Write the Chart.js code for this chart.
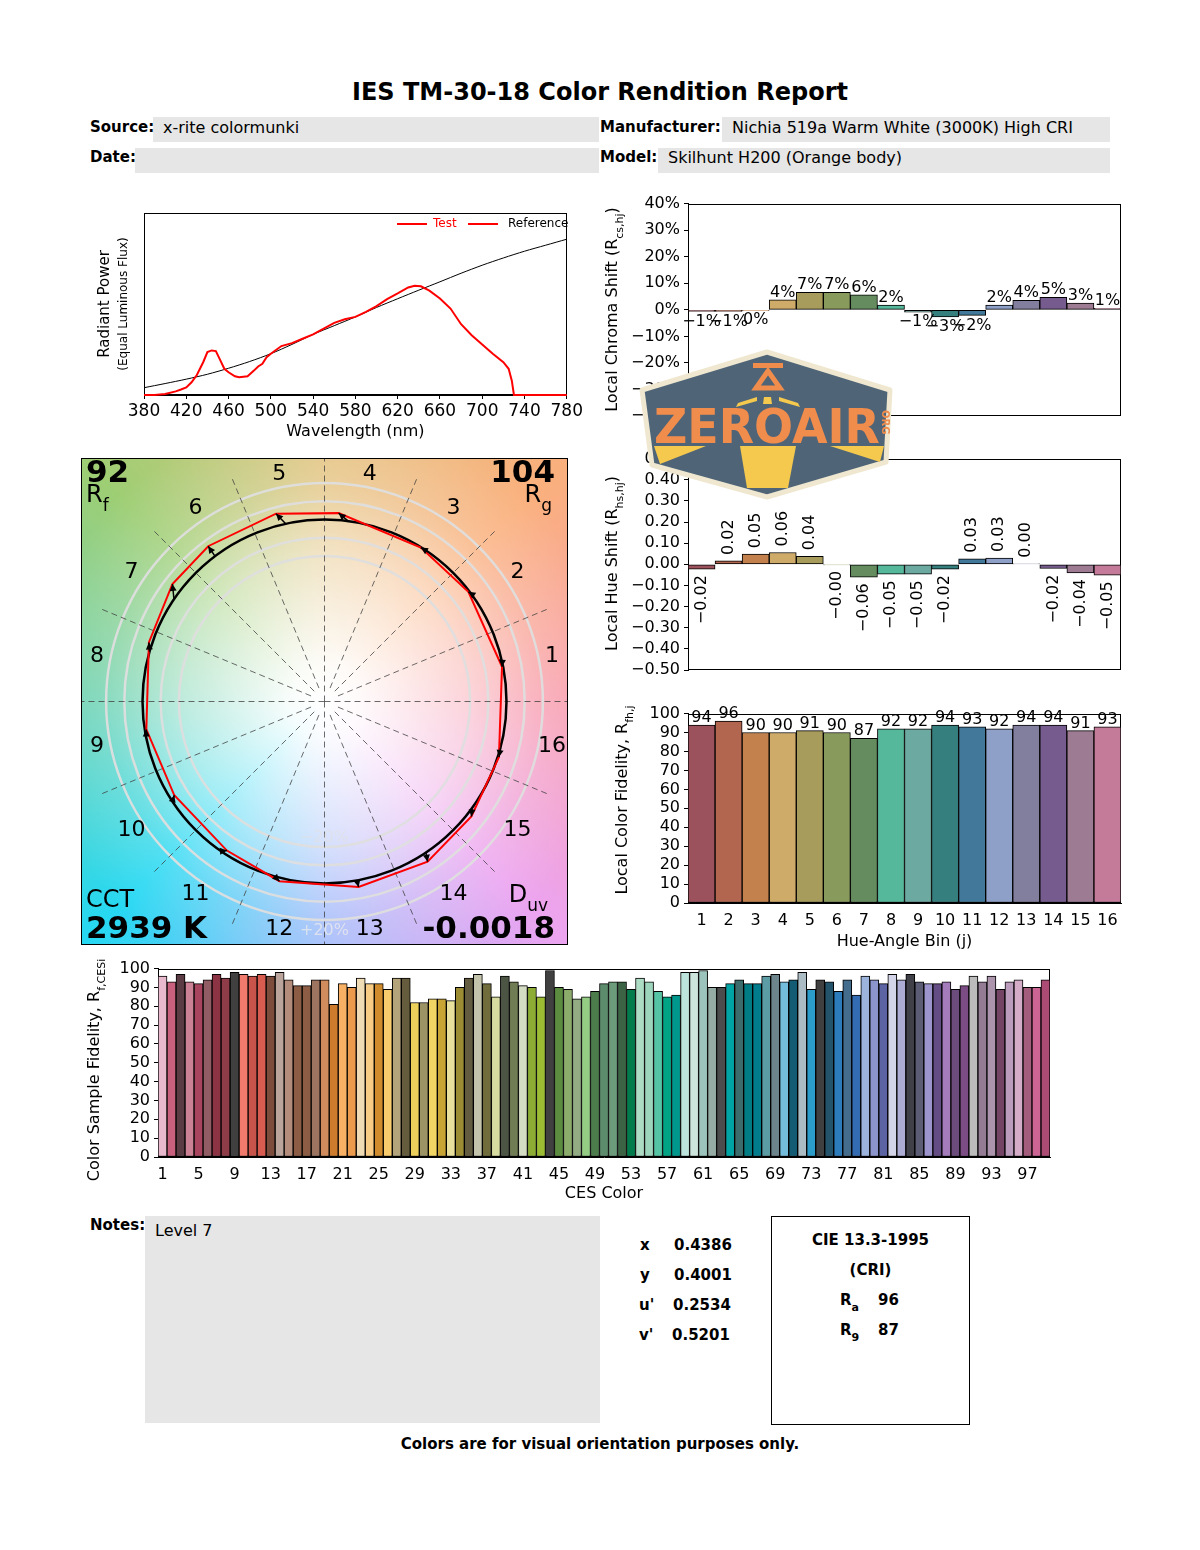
<!DOCTYPE html>
<html>
<head>
<meta charset="utf-8">
<title>IES TM-30-18 Color Rendition Report</title>
<script src="https://cdn.jsdelivr.net/npm/chart.js@4.4.1/dist/chart.umd.min.js"></script>
<style>
  body { margin: 0; background: #fff; font-family: 'DejaVu Sans', sans-serif; color: #000; }
  #page { position: relative; width: 1200px; height: 1550px; overflow: hidden; }
  .t { position: absolute; white-space: nowrap; }
  .b { font-weight: bold; font-size: 15px; }
  .v { font-size: 16px; }
  .gray { position: absolute; background: #e6e6e6; }
  .plot { position: absolute; }
</style>
</head>
<body>
<div id="page">
  <div class="t" style="left:0;width:1200px;top:78px;text-align:center;font-weight:bold;font-size:24px;line-height:28px">IES TM-30-18 Color Rendition Report</div>

  <div class="gray" style="left:153px;top:117px;width:446px;height:25px"></div>
  <div class="t b" style="left:90px;top:115px;line-height:25px">Source:</div>
  <div class="t v" style="left:163px;top:115px;line-height:25px">x-rite colormunki</div>

  <div class="gray" style="left:135px;top:148px;width:464px;height:25px"></div>
  <div class="t b" style="left:90px;top:145px;line-height:25px">Date:</div>

  <div class="gray" style="left:722px;top:117px;width:388px;height:25px"></div>
  <div class="t b" style="left:600px;top:115px;line-height:25px">Manufacturer:</div>
  <div class="t v" style="left:732px;top:115px;line-height:25px">Nichia 519a Warm White (3000K) High CRI</div>

  <div class="gray" style="left:658px;top:148px;width:452px;height:25px"></div>
  <div class="t b" style="left:600px;top:145px;line-height:25px">Model:</div>
  <div class="t v" style="left:668px;top:145px;line-height:25px">Skilhunt H200 (Orange body)</div>

  <div class="plot" style="left:85px;top:200px;width:500px;height:245px"><canvas id="spd"></canvas></div>
  <div class="plot" style="left:600px;top:190px;width:530px;height:240px"><canvas id="chroma"></canvas></div>
  <div class="plot" style="left:600px;top:445px;width:530px;height:240px"><canvas id="hue"></canvas></div>
  <div class="plot" style="left:600px;top:700px;width:530px;height:255px"><canvas id="fidelity"></canvas></div>
  <div class="plot" style="left:81px;top:458px;width:487px;height:487px"><canvas id="vector"></canvas></div>
  <div class="plot" style="left:80px;top:955px;width:980px;height:250px"><canvas id="ces"></canvas></div>

  <div class="gray" style="left:145px;top:1216px;width:455px;height:207px"></div>
  <div class="t b" style="left:90px;top:1213px;line-height:25px">Notes:</div>
  <div class="t v" style="left:155px;top:1218px;line-height:25px">Level 7</div>

  <div class="t b" style="left:640px;top:1233px;line-height:25px">x</div>
  <div class="t b" style="left:674px;top:1233px;line-height:25px">0.4386</div>
  <div class="t b" style="left:640px;top:1263px;line-height:25px">y</div>
  <div class="t b" style="left:674px;top:1263px;line-height:25px">0.4001</div>
  <div class="t b" style="left:639px;top:1293px;line-height:25px">u'</div>
  <div class="t b" style="left:673px;top:1293px;line-height:25px">0.2534</div>
  <div class="t b" style="left:639px;top:1323px;line-height:25px">v'</div>
  <div class="t b" style="left:672px;top:1323px;line-height:25px">0.5201</div>

  <div style="position:absolute;left:771px;top:1216px;width:197px;height:207px;border:1px solid #000"></div>
  <div class="t b" style="left:771px;width:199px;text-align:center;top:1228px;line-height:25px">CIE 13.3-1995</div>
  <div class="t b" style="left:771px;width:199px;text-align:center;top:1258px;line-height:25px">(CRI)</div>
  <div class="t b" style="left:840px;top:1288px;line-height:25px">R<sub style="font-size:11px;vertical-align:-6px">a</sub></div>
  <div class="t b" style="left:878px;top:1288px;line-height:25px">96</div>
  <div class="t b" style="left:840px;top:1318px;line-height:25px">R<sub style="font-size:11px;vertical-align:-6px">9</sub></div>
  <div class="t b" style="left:878px;top:1318px;line-height:25px">87</div>

  <div class="t b" style="left:0;width:1200px;text-align:center;top:1432px;line-height:25px">Colors are for visual orientation purposes only.</div>

  <svg class="t" style="left:636px;top:346px" width="270" height="158" viewBox="0 0 270 158">
    <polygon points="131,6 254,44 250,116 131,151 16,119 6,44" fill="#4f6577" stroke="#efe7cf" stroke-width="5" stroke-linejoin="round"/>
    <rect x="117" y="17" width="30" height="5" fill="#f08c4c"/>
    <polygon points="132,25 120,42 144,42" fill="none" stroke="#f08c4c" stroke-width="5"/>
    <g fill="#f5c84e">
      <polygon points="102,57 121,51 121,55 100,61"/>
      <polygon points="128,51 135,51 136,58 127,58"/>
      <polygon points="143,51 162,57 164,61 143,55"/>
      <polygon points="104,100 160,100 152,142 111,142"/>
      <polygon points="18,100 70,100 24,118"/>
      <polygon points="194,100 248,100 244,116"/>
    </g>
    <text x="131" y="97" text-anchor="middle" font-family="DejaVu Sans" font-weight="bold" font-size="48" fill="#f08c4c" textLength="226" lengthAdjust="spacingAndGlyphs">ZEROAIR</text>
    <text x="0" y="0" transform="translate(246,64) rotate(90)" font-family="DejaVu Sans" font-weight="bold" font-size="10" fill="#f08c4c">ORG</text>
  </svg>
</div>

<script>
// ---- data ----
const binLabels = ['1','2','3','4','5','6','7','8','9','10','11','12','13','14','15','16'];
const chromaShift = [-0.6, -0.6, -0.2, 3.8, 6.6, 6.6, 5.6, 1.8, -0.9, -2.7, -2.1, 1.8, 3.6, 4.7, 2.5, 0.6]; // %
const hueShift = [-0.023, 0.016, 0.048, 0.056, 0.038, -0.003, -0.061, -0.047, -0.047, -0.023, 0.026, 0.030, 0.002, -0.020, -0.041, -0.052]; // rad
const localFidelity = [94, 96, 90, 90, 91, 90, 87, 92, 92, 94, 93, 92, 94, 94, 91, 93];
const refHueDeg = [12.4, 36.4, 55.2, 82.5, 102.3, 127.0, 145.8, 164.1, 191.6, 213.3, 235.3, 254.2, 280.3, 303.9, 324.3, 345.3];

const cesFidelity = [
  96, 93, 97, 93, 92, 94, 97, 95, 98, 97,
  96, 97, 96, 98, 94, 91, 91, 94, 94, 81,
  92, 90, 95, 92, 92, 89, 95, 95, 82, 82,
  84, 84, 83, 90, 95, 97, 92, 85, 96, 93,
  91, 90, 85, 99, 90, 89, 84, 85, 88, 92,
  93, 93, 89, 95, 93, 88, 85, 86, 98, 98,
  99, 90, 90, 92, 94, 92, 92, 96, 97, 93,
  94, 98, 89, 94, 93, 88, 94, 86, 96, 94,
  92, 97, 94, 97, 93, 92, 92, 93, 89, 91,
  96, 93, 96, 89, 93, 94, 90, 90, 94
];
const cesLabels = cesFidelity.map((v, i) => String(i + 1));

const wavelengths = [380, 390, 400, 410, 415, 420, 425, 430, 436, 440, 444, 448, 452, 456, 460, 466, 470, 478, 484, 488, 492, 496, 500, 510, 520, 530, 540, 550, 560, 570, 580, 590, 600, 610, 620, 630, 636, 642, 650, 660, 670, 680, 690, 700, 710, 720, 725, 728, 730, 740, 760, 780];
const testSpd = [0, 0, 0.005, 0.02, 0.03, 0.042, 0.07, 0.11, 0.18, 0.236, 0.245, 0.241, 0.193, 0.144, 0.125, 0.103, 0.098, 0.103, 0.134, 0.157, 0.171, 0.208, 0.227, 0.269, 0.285, 0.309, 0.333, 0.365, 0.396, 0.416, 0.429, 0.457, 0.488, 0.527, 0.558, 0.591, 0.600, 0.597, 0.573, 0.530, 0.475, 0.389, 0.328, 0.278, 0.227, 0.180, 0.144, 0.079, 0, 0, 0, 0];
const refWavelengths = [380, 400, 420, 440, 460, 480, 500, 520, 540, 560, 580, 600, 620, 640, 660, 680, 700, 720, 740, 760, 780];
const refSpd = [0.040, 0.063, 0.087, 0.114, 0.147, 0.184, 0.227, 0.278, 0.333, 0.381, 0.429, 0.481, 0.529, 0.576, 0.622, 0.669, 0.713, 0.753, 0.790, 0.823, 0.856];

// ---- colours ----
const binColors = ['#9b525c', '#b2654f', '#c3814d', '#cfab69', '#a89c5c', '#889a5c', '#648c5e', '#55b89a',
                   '#6ca9a0', '#35807f', '#42789a', '#8fa0c8', '#827e9e', '#765b8e', '#9c7b93', '#c47b99'];
const cesColors = [
  '#e8b8cc','#c8607e','#5c3c44','#cc8294','#a8445e','#925c64','#8c3444','#8e3c48','#404040','#f07a6c',
  '#c8544c','#d85c50','#7c4c3c','#baa49c','#b48c7c','#8c5c44','#8c5c44','#9c7460','#d08c5c','#cc7c2c',
  '#f8b064','#ec9a4c','#f0dcb4','#f8cc84','#d08c2c','#f8cc6c','#b4a47c','#645c3c','#ecd05c','#9c9464',
  '#f0d464','#c8a434','#e8e09c','#9c8c34','#645c40','#c4c4ac','#706c3c','#d8dca0','#4c5444','#707c54',
  '#d4dcc4','#8cac34','#9cbc34','#404040','#5c8c40','#8cac6c','#94ac84','#94cc84','#4c7c4c',
  '#5c8c6c','#6c9c7c','#3c6444','#007c4c','#acdcc4','#9cd4bc','#54c4a4','#00a484','#00988c',
  '#bce4dc','#cce4dc','#9cc4bc','#94aca4','#4c4c4c','#00a4a4','#3c6c6c','#007c84','#007c8c',
  '#5c9ca4','#6c848c','#74bcdc','#145c74','#acbcc4','#2c9cc8','#404040','#24546c','#2c7cbc',
  '#446c8c','#346cb4','#9cb4dc','#8c94cc','#5c64a4','#d4d4e8','#acacd4','#404048','#5c5c74',
  '#9c94cc','#644c84','#a47cbc','#6c4c7c','#7c4c84','#bcbcbc','#947c94','#ac94ac','#744464',
  '#bc9cbc','#d4acc8','#a45c7c','#cc6494','#ac4c74'
];

Chart.defaults.font.family = "'DejaVu Sans', sans-serif";
Chart.defaults.font.size = 16;
Chart.defaults.color = '#000';
Chart.defaults.animation = false;
Chart.defaults.plugins.legend.display = false;
Chart.defaults.plugins.tooltip.enabled = false;

const FONT = "'DejaVu Sans', sans-serif";
const minus = s => String(s).replace('-', '\u2212');

// text with subscripts, optionally rotated to read bottom-to-top
function richText(ctx, x, y, parts, size, rotate, align) {
  ctx.save();
  ctx.translate(x, y);
  if (rotate) ctx.rotate(-Math.PI / 2);
  ctx.textBaseline = 'middle';
  ctx.textAlign = 'left';
  const fonts = parts.map(p => (p.bold ? 'bold ' : '') + (p.sub ? Math.round(size * 0.7) : size) + 'px ' + FONT);
  const widths = parts.map((p, i) => { ctx.font = fonts[i]; return ctx.measureText(p.t).width; });
  const total = widths.reduce((a, b) => a + b, 0);
  let cx = align === 'left' ? 0 : align === 'right' ? -total : -total / 2;
  parts.forEach((p, i) => {
    ctx.font = fonts[i];
    ctx.fillStyle = p.color || '#000';
    ctx.fillText(p.t, cx, p.sub ? size * 0.45 : 0);
    cx += widths[i];
  });
  ctx.restore();
}

// axes box, drawn under the data so curves lying on the edge stay visible
const frame = {
  id: 'frame',
  beforeDatasetsDraw(chart) {
    const a = chart.chartArea, c = chart.ctx;
    c.save();
    c.strokeStyle = '#000';
    c.lineWidth = 1;
    c.strokeRect(Math.round(a.left) + 0.5, Math.round(a.top) + 0.5, Math.round(a.right - a.left) - 1, Math.round(a.bottom - a.top) - 1);
    c.restore();
  }
};

function yTitle(x, y, parts) {
  return { id: 'ytitle', afterDraw(chart) { richText(chart.ctx, x, y, parts, 16, true); } };
}

// labels on bars: plain or rotated
function barLabels(fmt, rotated) {
  return {
    id: 'barLabels',
    afterDatasetsDraw(chart) {
      const ctx = chart.ctx, meta = chart.getDatasetMeta(0), data = chart.data.datasets[0].data;
      ctx.save();
      ctx.fillStyle = '#000';
      ctx.font = '16px ' + FONT;
      meta.data.forEach((bar, i) => {
        const v = data[i], txt = fmt(v);
        const top = Math.min(bar.y, bar.base), bottom = Math.max(bar.y, bar.base);
        if (rotated) {
          ctx.save();
          ctx.textBaseline = 'middle';
          if (v >= 0) { ctx.translate(bar.x, top - 6); ctx.rotate(-Math.PI / 2); ctx.textAlign = 'left'; }
          else { ctx.translate(bar.x, bottom + 6); ctx.rotate(-Math.PI / 2); ctx.textAlign = 'right'; }
          ctx.fillText(txt, 0, 0);
          ctx.restore();
        } else {
          ctx.textAlign = 'center';
          if (v >= 0) { ctx.textBaseline = 'alphabetic'; ctx.fillText(txt, bar.x, top - 3); }
          else { ctx.textBaseline = 'top'; ctx.fillText(txt, bar.x, bottom + 2); }
        }
      });
      ctx.restore();
    }
  };
}

function yAxis(min, max, step, width, cb) {
  return {
    min: min, max: max,
    ticks: { stepSize: step, padding: 4, callback: cb, font: { size: 16 }, autoSkip: false },
    grid: { display: true, drawOnChartArea: false, color: '#000', tickLength: 4 },
    border: { color: '#000' },
    afterFit: s => { s.width = width; }
  };
}

// ---- spectrum ----
const spdExtras = {
  id: 'spdExtras',
  afterDraw(chart) {
    const ctx = chart.ctx;
    richText(ctx, 20, 104, [{ t: 'Radiant Power' }], 15, true);
    richText(ctx, 39, 104, [{ t: '(Equal Luminous Flux)' }], 12, true);
    ctx.save();
    ctx.lineWidth = 2;
    ctx.strokeStyle = '#ff0000';
    ctx.beginPath(); ctx.moveTo(312, 24); ctx.lineTo(342, 24); ctx.stroke();
    ctx.beginPath(); ctx.moveTo(383, 24); ctx.lineTo(413, 24); ctx.stroke();
    ctx.font = '12px ' + FONT;
    ctx.textBaseline = 'middle';
    ctx.fillStyle = '#ff0000'; ctx.fillText('Test', 348, 24);
    ctx.fillStyle = '#000'; ctx.fillText('Reference', 423, 24);
    ctx.restore();
  }
};

new Chart(document.getElementById('spd'), {
  type: 'line',
  data: {
    datasets: [
      { label: 'Test', data: wavelengths.map((w, i) => ({ x: w, y: testSpd[i] })),
        borderColor: '#ff0000', borderWidth: 2, pointRadius: 0, tension: 0, clip: false },
      { label: 'Reference', data: refWavelengths.map((w, i) => ({ x: w, y: refSpd[i] })),
        borderColor: '#000', borderWidth: 1, pointRadius: 0, tension: 0.3 }
    ]
  },
  options: {
    responsive: true, maintainAspectRatio: false,
    layout: { padding: { top: 13, right: 11, left: 0, bottom: 0 } },
    scales: {
      x: {
        type: 'linear', min: 380, max: 780,
        ticks: { stepSize: 40, font: { size: 17 }, padding: 2, maxRotation: 0, autoSkip: false },
        grid: { display: true, drawOnChartArea: false, color: '#000', tickLength: 4 },
        border: { color: '#000' },
        title: { display: true, text: 'Wavelength (nm)', font: { size: 16 }, padding: { top: 2, bottom: 4 } },
        afterFit: s => { s.height = 50; }
      },
      y: { min: 0, max: 1, ticks: { display: false }, grid: { display: false }, border: { color: '#000' },
           afterFit: s => { s.width = 59; } }
    }
  },
  plugins: [frame, spdExtras]
});

// ---- chroma / hue shift ----
function shiftBars(id, values, yopts, pad, plugins) {
  return new Chart(document.getElementById(id), {
    type: 'bar',
    data: {
      labels: binLabels,
      datasets: [{ data: values, backgroundColor: binColors, borderColor: '#000', borderWidth: 1,
                   borderSkipped: false, barPercentage: 1, categoryPercentage: 1 }]
    },
    options: {
      responsive: true, maintainAspectRatio: false,
      layout: { padding: pad },
      scales: { x: { display: false }, y: yopts }
    },
    plugins: plugins
  });
}

shiftBars('chroma', chromaShift,
  yAxis(-40, 40, 10, 88, v => minus(v + '%')),
  { top: 13, right: 9, left: 0, bottom: 14 },
  [frame, barLabels(v => minus(Math.round(v) + '%'), false),
   yTitle(13, 119.5, [{ t: 'Local Chroma Shift (R' }, { t: 'cs,hj', sub: true }, { t: ')' }])]);

shiftBars('hue', hueShift,
  yAxis(-0.5, 0.5, 0.1, 88, v => minus(v.toFixed(2))),
  { top: 12, right: 9, left: 0, bottom: 15 },
  [frame, barLabels(v => minus(v.toFixed(2)), true),
   yTitle(13, 118.5, [{ t: 'Local Hue Shift (R' }, { t: 'hs,hj', sub: true }, { t: ')' }])]);

// ---- local color fidelity ----
new Chart(document.getElementById('fidelity'), {
  type: 'bar',
  data: {
    labels: binLabels,
    datasets: [{ data: localFidelity, backgroundColor: binColors, borderColor: '#000', borderWidth: 1,
                 borderSkipped: false, barPercentage: 1, categoryPercentage: 1 }]
  },
  options: {
    responsive: true, maintainAspectRatio: false,
    layout: { padding: { top: 10, right: 9, left: 0, bottom: 0 } },
    scales: {
      x: {
        ticks: { padding: 0, font: { size: 16 }, maxRotation: 0, autoSkip: false },
        grid: { display: false }, border: { color: '#000' },
        title: { display: true, text: 'Hue-Angle Bin (j)', font: { size: 16 }, padding: { top: 2, bottom: 4 } },
        afterFit: s => { s.height = 52; }
      },
      y: yAxis(0, 100, 10, 88, v => v)
    }
  },
  plugins: [frame, barLabels(v => String(v), false),
            yTitle(23, 100, [{ t: 'Local Color Fidelity, R' }, { t: 'fh,j', sub: true }])]
});

// ---- CES sample fidelity ----
new Chart(document.getElementById('ces'), {
  type: 'bar',
  data: {
    labels: cesLabels,
    datasets: [{ data: cesFidelity, backgroundColor: cesColors, borderColor: '#000', borderWidth: 1,
                 borderSkipped: false, barPercentage: 1, categoryPercentage: 1 }]
  },
  options: {
    responsive: true, maintainAspectRatio: false,
    layout: { padding: { top: 9, right: 10, left: 0, bottom: 0 } },
    scales: {
      x: {
        ticks: {
          padding: 0, font: { size: 16 }, maxRotation: 0, autoSkip: false,
          callback: function (val, idx) { return idx % 4 === 0 ? this.getLabelForValue(val) : ''; }
        },
        grid: { display: false }, border: { color: '#000' },
        title: { display: true, text: 'CES Color', font: { size: 16 }, padding: { top: 2, bottom: 2 } },
        afterFit: s => { s.height = 48; }
      },
      y: yAxis(0, 100, 10, 78, v => v)
    }
  },
  plugins: [frame, yTitle(15, 115, [{ t: 'Color Sample Fidelity, R' }, { t: 'f,CESi', sub: true }])]
});

// ---- colour vector graphic ----
const wheel = [
  [0, 'rgb(248,158,175)'], [45, 'rgb(250,176,125)'], [90, 'rgb(228,196,130)'], [135, 'rgb(158,206,116)'],
  [180, 'rgb(108,210,178)'], [225, 'rgb(38,216,242)'], [270, 'rgb(160,186,250)'], [315, 'rgb(236,164,240)'],
  [360, 'rgb(248,158,175)']
];

const vectorPts = binLabels.map((b, i) => {
  const a = refHueDeg[i] * Math.PI / 180 + hueShift[i];
  const r = 1 + chromaShift[i] / 100;
  return { x: r * Math.cos(a), y: r * Math.sin(a) };
});

const vectorPlugin = {
  id: 'vector',
  beforeDatasetsDraw(chart) {
    const ctx = chart.ctx, xs = chart.scales.x, ys = chart.scales.y;
    const cx = xs.getPixelForValue(0), cy = ys.getPixelForValue(0);
    const R = xs.getPixelForValue(1) - cx;
    ctx.save();
    const g = ctx.createConicGradient(0, cx, cy);
    wheel.slice().reverse().forEach(([deg, col]) => g.addColorStop(1 - deg / 360, col));
    ctx.fillStyle = g;
    ctx.fillRect(0, 0, chart.width, chart.height);
    const w = ctx.createRadialGradient(cx, cy, 0, cx, cy, 1.6 * R);
    w.addColorStop(0, 'rgba(255,255,255,1)');
    w.addColorStop(0.12, 'rgba(255,255,255,0.95)');
    w.addColorStop(0.5, 'rgba(255,255,255,0.55)');
    w.addColorStop(0.75, 'rgba(255,255,255,0.2)');
    w.addColorStop(1, 'rgba(255,255,255,0)');
    ctx.fillStyle = w;
    ctx.fillRect(0, 0, chart.width, chart.height);

    ctx.strokeStyle = 'rgba(222,222,222,0.95)';
    ctx.lineWidth = 2.5;
    [0.8, 0.9, 1.1, 1.2].forEach(r => { ctx.beginPath(); ctx.arc(cx, cy, r * R, 0, 2 * Math.PI); ctx.stroke(); });

    ctx.setLineDash([6, 4]);
    ctx.strokeStyle = 'rgba(60,60,60,0.85)';
    ctx.lineWidth = 0.9;
    for (let k = 0; k < 16; k++) {
      const a = k * Math.PI / 8;
      const r0 = k % 4 === 0 ? 0 : 0.08;
      ctx.beginPath();
      ctx.moveTo(cx + r0 * R * Math.cos(a), cy - r0 * R * Math.sin(a));
      ctx.lineTo(cx + 1.335 * R * Math.cos(a), cy - 1.335 * R * Math.sin(a));
      ctx.stroke();
    }
    ctx.setLineDash([]);

    ctx.font = '16px ' + FONT;
    ctx.textAlign = 'center';
    ctx.textBaseline = 'middle';
    ctx.fillStyle = 'rgba(235,235,235,0.75)';
    ctx.fillText('+20%', cx, cy + 1.258 * R);
    ctx.fillStyle = 'rgba(225,225,225,0.6)';
    ctx.fillText('\u221220%', cx, cy + 0.75 * R);

    ctx.strokeStyle = '#000';
    ctx.lineWidth = 2.5;
    ctx.beginPath(); ctx.arc(cx, cy, R, 0, 2 * Math.PI); ctx.stroke();
    ctx.restore();
  },
  afterDatasetsDraw(chart) {
    const ctx = chart.ctx, xs = chart.scales.x, ys = chart.scales.y;
    const cx = xs.getPixelForValue(0), cy = ys.getPixelForValue(0);
    const R = xs.getPixelForValue(1) - cx;
    ctx.save();
    // arrows from reference to test
    ctx.strokeStyle = '#000';
    ctx.fillStyle = '#000';
    ctx.lineWidth = 1.5;
    vectorPts.forEach((p, i) => {
      const a0 = refHueDeg[i] * Math.PI / 180;
      const x0 = xs.getPixelForValue(Math.cos(a0)), y0 = ys.getPixelForValue(Math.sin(a0));
      const x1 = xs.getPixelForValue(p.x), y1 = ys.getPixelForValue(p.y);
      const ang = Math.atan2(y1 - y0, x1 - x0);
      ctx.beginPath(); ctx.moveTo(x0, y0); ctx.lineTo(x1, y1); ctx.stroke();
      ctx.beginPath();
      ctx.moveTo(x1, y1);
      ctx.lineTo(x1 - 7 * Math.cos(ang) + 3.5 * Math.sin(ang), y1 - 7 * Math.sin(ang) - 3.5 * Math.cos(ang));
      ctx.lineTo(x1 - 7 * Math.cos(ang) - 3.5 * Math.sin(ang), y1 - 7 * Math.sin(ang) + 3.5 * Math.cos(ang));
      ctx.closePath(); ctx.fill();
    });
    // bin numbers
    ctx.font = '22px ' + FONT;
    ctx.textAlign = 'center';
    ctx.textBaseline = 'middle';
    binLabels.forEach((b, i) => {
      const a = (i + 0.5) * Math.PI / 8;
      ctx.fillText(b, cx + 1.275 * R * Math.cos(a), cy - 1.275 * R * Math.sin(a));
    });
    ctx.restore();

    const W = chart.width, H = chart.height;
    richText(ctx, 5, 16, [{ t: '92', bold: true }], 31, false, 'left');
    richText(ctx, 5, 38, [{ t: 'R' }, { t: 'f', sub: true }], 24, false, 'left');
    richText(ctx, W - 13, 16, [{ t: '104', bold: true }], 31, false, 'right');
    richText(ctx, W - 16, 38, [{ t: 'R' }, { t: 'g', sub: true }], 24, false, 'right');
    richText(ctx, 5, H - 44, [{ t: 'CCT' }], 24, false, 'left');
    richText(ctx, 5, H - 15, [{ t: '2939 K', bold: true }], 31, false, 'left');
    richText(ctx, W - 20, H - 49, [{ t: 'D' }, { t: 'uv', sub: true }], 24, false, 'right');
    richText(ctx, W - 13, H - 15, [{ t: '-0.0018', bold: true }], 31, false, 'right');

    ctx.save();
    ctx.strokeStyle = '#000';
    ctx.lineWidth = 1;
    ctx.strokeRect(0.5, 0.5, W - 1, H - 1);
    ctx.restore();
  }
};

new Chart(document.getElementById('vector'), {
  type: 'scatter',
  data: {
    datasets: [{ data: vectorPts.concat([vectorPts[0]]), showLine: true, borderColor: '#ff0000',
                 borderWidth: 2, pointRadius: 0, tension: 0 }]
  },
  options: {
    responsive: true, maintainAspectRatio: false,
    layout: { padding: 0 },
    scales: {
      x: { type: 'linear', min: -1.338, max: 1.338, display: false },
      y: { type: 'linear', min: -1.338, max: 1.338, display: false }
    }
  },
  plugins: [vectorPlugin]
});
</script>
</body>
</html>
